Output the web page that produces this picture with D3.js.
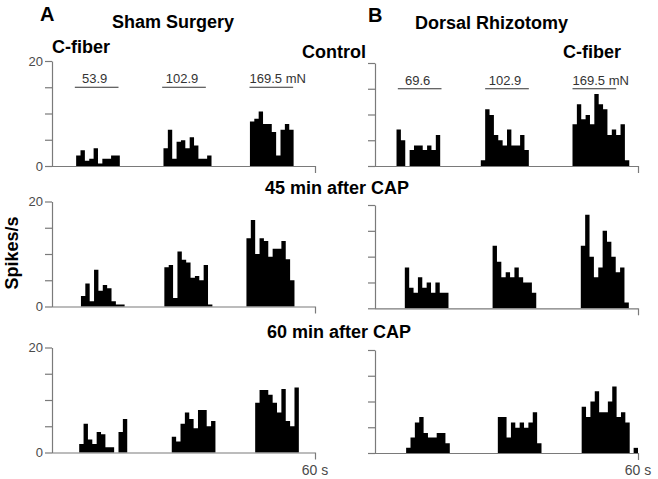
<!DOCTYPE html>
<html>
<head>
<meta charset="utf-8">
<script src="https://cdn.jsdelivr.net/npm/d3@7"></script>
<style>
  html, body { margin: 0; padding: 0; background: #fff; }
  svg { display: block; font-family: "Liberation Sans", Arial, sans-serif; }
</style>
</head>
<body>
<script>
// ---------- data ----------
const panelLetters = ["A", "B"];
const columnTitles = ["Sham Surgery", "Dorsal Rhizotomy"];
const rowTitles = ["Control", "45 min after CAP", "60 min after CAP"];
const fiberLabel = "C-fiber";
const yLabel = "Spikes/s";
const xEndLabel = "60 s";
const yTicks = [0, 5, 10, 15, 20];
const yTickLabels = ["0", "", "", "", "20"];
const stimWindows = [[5, 15], [25, 35], [45, 55]];
const stimLevel = 15;
const stimLabelsA = ["53.9", "102.9", "169.5 mN"];
const stimLabelsB = ["69.6", "102.9", "169.5 mN"];
const binWidth = 1; // s

// histograms: each group = [start time (s), spikes/s per 1-s bin]
const shamControl = [
  [5.3, [2.0, 3.0, 1.0, 1.4, 3.4, 0.5, 1.4, 1.4, 2.0, 2.0]],
  [25.3, [3.4, 6.9, 1.4, 4.6, 4.9, 3.4, 5.5, 3.9, 1.4, 1.4, 2.0]],
  [45.1, [8.5, 9.0, 10.4, 8.0, 8.0, 6.5, 2.0, 6.9, 8.0, 6.9]]
];
const sham45 = [
  [6.4, [2.0, 4.4, 1.0, 7.0, 3.0, 4.1, 3.5, 1.0, 0.4, 0.4]],
  [25.5, [7.5, 7.9, 1.6, 10.5, 8.9, 8.4, 5.5, 5.8, 5.0, 7.9, 0.4]],
  [44.3, [13.0, 16.5, 10.0, 13.0, 12.5, 9.5, 11.0, 11.0, 12.5, 9.0, 5.0]]
];
const sham60 = [
  [6.0, [1.6, 5.5, 2.5, 1.6, 3.9, 3.5, 1.0, 1.0, 0, 3.9, 6.4]],
  [27.2, [3.0, 2.1, 5.5, 7.6, 6.4, 4.6, 8.1, 8.1, 5.0, 6.0]],
  [46.3, [9.5, 11.9, 11.9, 11.0, 9.5, 7.6, 12.1, 6.0, 5.0, 12.4]]
];
const rhizControl = [
  [4.7, [7.1, 5.0, 0, 3.1, 4.0, 4.0, 3.1, 4.0, 3.1, 6.0]],
  [24.0, [1.1, 11.0, 9.9, 6.0, 5.0, 4.0, 7.1, 4.0, 4.0, 6.0, 3.1]],
  [45.0, [8.1, 12.0, 9.1, 9.9, 8.1, 14.0, 12.0, 11.0, 6.0, 7.1, 6.0, 8.1, 1.1]]
];
const rhiz45 = [
  [6.6, [7.9, 4.0, 3.0, 6.0, 4.0, 5.0, 3.0, 5.0, 3.0, 3.0]],
  [26.7, [12.1, 9.0, 6.0, 7.0, 6.0, 7.9, 6.0, 5.0, 5.0, 3.0]],
  [46.9, [12.1, 18.1, 10.0, 6.0, 7.9, 15.0, 12.9, 10.0, 7.0, 7.9, 1.1]]
];
const rhiz60 = [
  [6.9, [1.0, 3.0, 5.9, 7.0, 3.9, 3.0, 3.0, 3.9, 3.9, 1.9]],
  [27.9, [7.0, 7.0, 3.0, 5.9, 4.9, 5.9, 4.9, 5.9, 7.9, 1.9]],
  [47.1, [9.0, 7.0, 10.0, 12.0, 7.9, 7.9, 10.0, 12.9, 7.0, 7.9, 5.9]],
  [59.0, [1.0]]
];

// ---------- layout ----------
const W = 658, H = 479;
const colLayout = [
  { axisX: 52, x0: 53, x1: 315, rows: [[166, 61], [306.5, 201.5], [452.5, 347.5]] },
  { axisX: 375, x0: 376, x1: 638, rows: [[166, 63], [308.3, 205], [453, 350]] }
];
const panels = [
  { col: 0, row: 0, data: shamControl, stim: stimLabelsA },
  { col: 0, row: 1, data: sham45 },
  { col: 0, row: 2, data: sham60 },
  { col: 1, row: 0, data: rhizControl, stim: stimLabelsB },
  { col: 1, row: 1, data: rhiz45 },
  { col: 1, row: 2, data: rhiz60 }
];
const axisColor = "#7a7a7a";
const tickTextColor = "#4a4a4a";

const svg = d3.select("body").append("svg").attr("width", W).attr("height", H);

panels.forEach(p => {
  const L = colLayout[p.col];
  const [yb, yt] = L.rows[p.row];
  const x = d3.scaleLinear().domain([0, 60]).range([L.x0, L.x1]);
  const y = d3.scaleLinear().domain([0, 20]).range([yb, yt]);
  const g = svg.append("g");

  // bars: one stepped filled area per stimulus group (no seams between bins)
  const area = d3.area().curve(d3.curveStepAfter)
    .x(d => x(d.t)).y0(y(0)).y1(d => y(d.v));
  p.data.forEach(([start, vals]) => {
    const pts = vals.map((v, i) => ({ t: start + i * binWidth, v }));
    pts.push({ t: start + vals.length * binWidth, v: vals[vals.length - 1] });
    g.append("path").datum(pts).attr("d", area).attr("fill", "#000");
  });

  // y axis
  const yAxis = d3.axisLeft(y).tickValues(yTicks).tickSize(7).tickSizeOuter(0)
    .tickFormat((d, i) => p.col === 0 ? yTickLabels[i] : "");
  const ya = g.append("g").attr("transform", `translate(${L.axisX},0)`).call(yAxis);
  ya.select(".domain").attr("stroke", axisColor).attr("stroke-width", 1.2);
  ya.selectAll(".tick line").attr("stroke", axisColor).attr("stroke-width", 1.2);
  ya.selectAll(".tick text").attr("fill", tickTextColor).attr("font-size", 13)
    .attr("font-family", "'Liberation Sans', Arial, sans-serif").attr("x", -9);

  // x axis: baseline with single end tick
  const xAxis = d3.axisBottom(x).tickValues([60]).tickSize(7).tickSizeOuter(0).tickFormat(() => "");
  const xa = g.append("g").attr("transform", `translate(0,${yb})`).call(xAxis);
  xa.select(".domain").attr("stroke", axisColor).attr("stroke-width", 1.2)
    .attr("d", `M${L.axisX},0.5H${x(60)}`);
  xa.selectAll(".tick line").attr("stroke", axisColor).attr("stroke-width", 1.2);

  if (p.row === 2) {
    g.append("text").attr("x", x(60)).attr("y", 475).attr("text-anchor", "middle")
      .attr("font-size", 14).attr("fill", tickTextColor).text(xEndLabel);
  }

  // stimulus bars
  if (p.stim) {
    stimWindows.forEach((w, i) => {
      g.append("line").attr("x1", x(w[0])).attr("x2", x(w[1]))
        .attr("y1", y(stimLevel)).attr("y2", y(stimLevel))
        .attr("stroke", "#333").attr("stroke-width", 1);
      const lab = p.stim[i];
      const hasUnit = lab.indexOf("mN") >= 0;
      g.append("text")
        .attr("x", hasUnit ? x(w[0]) : (x(w[0]) + x(w[1])) / 2 - 2)
        .attr("y", y(stimLevel) - 4)
        .attr("text-anchor", hasUnit ? "start" : "middle")
        .attr("font-size", 13).attr("fill", "#333").text(lab);
    });
  }
});

// titles
const bold = (txt, xx, yy, size, anchor) => svg.append("text")
  .attr("x", xx).attr("y", yy).attr("font-size", size).attr("font-weight", "bold")
  .attr("text-anchor", anchor || "start").attr("fill", "#000").text(txt);

bold(panelLetters[0], 40, 21, 20);
bold(panelLetters[1], 368, 22, 20);
bold(columnTitles[0], 112, 28, 18);
bold(columnTitles[1], 415, 29, 18);
bold(fiberLabel, 52, 52.5, 18);
bold(rowTitles[0], 302, 58, 18);
bold(fiberLabel, 563, 58, 18);
bold(rowTitles[1], 265, 193.5, 18);
bold(rowTitles[2], 267, 338, 18);

svg.append("text").attr("transform", "translate(18,253) rotate(-90)")
  .attr("text-anchor", "middle").attr("font-size", 18).attr("font-weight", "bold")
  .attr("fill", "#000").text(yLabel);
</script>
</body>
</html>
